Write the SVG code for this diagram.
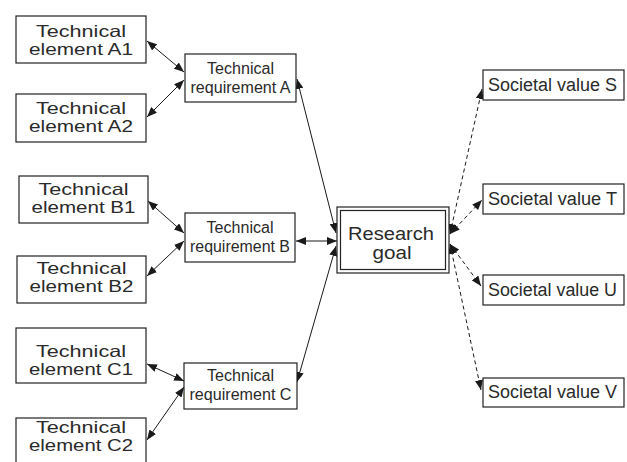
<svg xmlns="http://www.w3.org/2000/svg" width="627" height="462" viewBox="0 0 627 462">
<defs>
<marker id="ah" viewBox="0 0 10 8" refX="10" refY="4" markerWidth="10" markerHeight="8" markerUnits="userSpaceOnUse" orient="auto-start-reverse">
<path d="M0,0 L10,4 L0,8 Z" fill="#1a1a1a"/>
</marker>
</defs>
<style>
.box{fill:#fff;stroke:#222;stroke-width:1.2}
.t{font-family:"Liberation Sans","Noto Sans",Arial,sans-serif;fill:#2a2a2a;text-anchor:middle}
.el{font-size:16.5px}
.rq{font-size:16px}
.sv{font-size:18px}
.gl{font-size:17.5px}
.c{fill:none;stroke:#1a1a1a;stroke-width:1;marker-start:url(#ah);marker-end:url(#ah)}
.d{stroke-dasharray:4 3}
</style>
<rect width="627" height="462" fill="#fff"/>
<g id="connectors">
<line class="c" x1="147" y1="41" x2="184" y2="72"/>
<line class="c" x1="147" y1="117" x2="184" y2="80"/>
<line class="c" x1="148" y1="201" x2="184" y2="233"/>
<line class="c" x1="147" y1="276" x2="184" y2="241"/>
<line class="c" x1="147" y1="364" x2="184" y2="381"/>
<line class="c" x1="147" y1="440" x2="184" y2="387"/>
<line class="c" x1="297" y1="79" x2="336" y2="233"/>
<line class="c" x1="296" y1="241" x2="337" y2="241"/>
<line class="c" x1="297" y1="382" x2="336" y2="246"/>
<line class="c d" x1="450" y1="234" x2="482" y2="89"/>
<line class="c d" x1="450" y1="234" x2="482" y2="200"/>
<line class="c d" x1="450" y1="244" x2="481" y2="286"/>
<line class="c d" x1="450" y1="244" x2="481" y2="390"/>
</g>
<g id="elA1"><rect class="box" x="16" y="16" width="130" height="47"/><text class="t el" x="81" y="36.5" textLength="90" lengthAdjust="spacingAndGlyphs">Technical</text><text class="t el" x="81" y="55" textLength="104" lengthAdjust="spacingAndGlyphs">element A1</text></g>
<g id="elA2"><rect class="box" x="16" y="94" width="130" height="48"/><text class="t el" x="81" y="113.5" textLength="90" lengthAdjust="spacingAndGlyphs">Technical</text><text class="t el" x="81" y="132" textLength="104" lengthAdjust="spacingAndGlyphs">element A2</text></g>
<g id="elB1"><rect class="box" x="19" y="176" width="129" height="47"/><text class="t el" x="83.5" y="194.5" textLength="90" lengthAdjust="spacingAndGlyphs">Technical</text><text class="t el" x="83.5" y="213" textLength="104" lengthAdjust="spacingAndGlyphs">element B1</text></g>
<g id="elB2"><rect class="box" x="17" y="256" width="129" height="47"/><text class="t el" x="81.5" y="273.5" textLength="90" lengthAdjust="spacingAndGlyphs">Technical</text><text class="t el" x="81.5" y="292" textLength="104" lengthAdjust="spacingAndGlyphs">element B2</text></g>
<g id="elC1"><rect class="box" x="16" y="328" width="130" height="55"/><text class="t el" x="81" y="356.5" textLength="90" lengthAdjust="spacingAndGlyphs">Technical</text><text class="t el" x="81" y="375" textLength="104" lengthAdjust="spacingAndGlyphs">element C1</text></g>
<g id="elC2"><rect class="box" x="16" y="418" width="130" height="50"/><text class="t el" x="81" y="432.5" textLength="90" lengthAdjust="spacingAndGlyphs">Technical</text><text class="t el" x="81" y="451" textLength="104" lengthAdjust="spacingAndGlyphs">element C2</text></g>
<g id="reqA"><rect class="box" x="185" y="54" width="111" height="48"/><text class="t rq" x="240.5" y="74" textLength="67" lengthAdjust="spacingAndGlyphs">Technical</text><text class="t rq" x="240.5" y="93" textLength="100" lengthAdjust="spacingAndGlyphs">requirement A</text></g>
<g id="reqB"><rect class="box" x="185" y="213" width="110" height="49"/><text class="t rq" x="240" y="233" textLength="67" lengthAdjust="spacingAndGlyphs">Technical</text><text class="t rq" x="240" y="252" textLength="100" lengthAdjust="spacingAndGlyphs">requirement B</text></g>
<g id="reqC"><rect class="box" x="184" y="363" width="113" height="46"/><text class="t rq" x="240.5" y="381" textLength="67" lengthAdjust="spacingAndGlyphs">Technical</text><text class="t rq" x="240.5" y="400" textLength="102" lengthAdjust="spacingAndGlyphs">requirement C</text></g>
<g id="goal"><rect class="box" x="337" y="207" width="112" height="66"/><rect x="340.5" y="210.5" width="105" height="59" fill="none" stroke="#222" stroke-width="1.2"/><text class="t gl" x="391" y="239.5" textLength="86" lengthAdjust="spacingAndGlyphs">Research</text><text class="t gl" x="392" y="258.5" textLength="39" lengthAdjust="spacingAndGlyphs">goal</text></g>
<g id="svS"><rect class="box" x="483" y="70" width="141" height="30"/><text class="t sv" x="552.5" y="91" textLength="129" lengthAdjust="spacingAndGlyphs">Societal value S</text></g>
<g id="svT"><rect class="box" x="483" y="184" width="141" height="30"/><text class="t sv" x="552.5" y="205" textLength="129" lengthAdjust="spacingAndGlyphs">Societal value T</text></g>
<g id="svU"><rect class="box" x="483" y="275" width="141" height="30"/><text class="t sv" x="552.5" y="296" textLength="129" lengthAdjust="spacingAndGlyphs">Societal value U</text></g>
<g id="svV"><rect class="box" x="483" y="378" width="141" height="29"/><text class="t sv" x="552.5" y="398" textLength="129" lengthAdjust="spacingAndGlyphs">Societal value V</text></g>
</svg>
